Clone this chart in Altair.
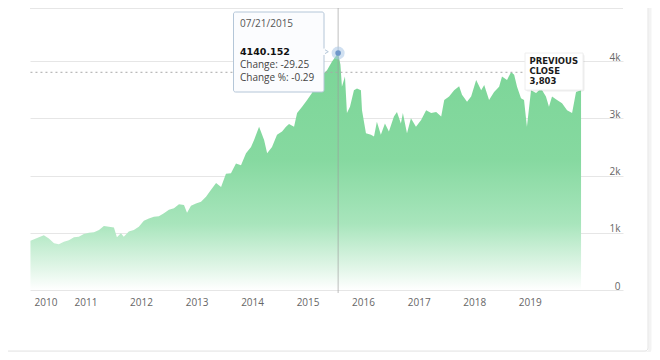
import altair as alt
import pandas as pd

# ---- data ----
dates = [
    "2010-01-04", "2010-03-01", "2010-04-02", "2010-05-05", "2010-06-08", "2010-07-10",
    "2010-08-12", "2010-09-14", "2010-10-17", "2010-11-18", "2010-12-21", "2011-01-24",
    "2011-02-26", "2011-03-31", "2011-05-02", "2011-06-04", "2011-07-07", "2011-07-27",
    "2011-08-22", "2011-09-10", "2011-10-13", "2011-11-15", "2011-12-18", "2012-01-20",
    "2012-02-22", "2012-03-26", "2012-04-28", "2012-05-31", "2012-07-03", "2012-08-05",
    "2012-09-07", "2012-10-10", "2012-10-30", "2012-11-25", "2012-12-28", "2013-01-30",
    "2013-03-04", "2013-04-06", "2013-05-09", "2013-06-11", "2013-07-13", "2013-08-15",
    "2013-09-17", "2013-10-20", "2013-11-22", "2013-12-25", "2014-01-14", "2014-02-16",
    "2014-03-21", "2014-04-10", "2014-05-12", "2014-06-14", "2014-07-17", "2014-08-12",
    "2014-09-01", "2014-10-04", "2014-10-24", "2014-11-26", "2014-12-29", "2015-01-30",
    "2015-03-04", "2015-04-06", "2015-05-09", "2015-05-22", "2015-06-11", "2015-07-21",
    "2015-08-05", "2015-08-15", "2015-09-04", "2015-09-17", "2015-10-07", "2015-11-02",
    "2015-11-22", "2015-12-18", "2015-12-25", "2016-01-20", "2016-02-22", "2016-03-13",
    "2016-04-01", "2016-04-27", "2016-05-24", "2016-06-19", "2016-07-22", "2016-08-11",
    "2016-09-06", "2016-09-19", "2016-10-16", "2016-11-11", "2016-12-14", "2017-01-17",
    "2017-02-19", "2017-03-24", "2017-04-26", "2017-05-29", "2017-06-18", "2017-07-20",
    "2017-08-22", "2017-09-24", "2017-10-13", "2017-11-15", "2017-12-12", "2018-01-14",
    "2018-02-16", "2018-03-08", "2018-04-09", "2018-05-12", "2018-06-14", "2018-07-03",
    "2018-08-05", "2018-09-01", "2018-09-21", "2018-10-10", "2018-11-05", "2018-11-25",
    "2018-12-14", "2019-01-10", "2019-02-12", "2019-03-17", "2019-04-18", "2019-05-08",
    "2019-05-28", "2019-06-30", "2019-08-02", "2019-09-04", "2019-10-07", "2019-11-02",
    "2019-12-05",
]
values = [
    860, 920, 955, 900, 815, 800,
    845, 870, 920, 930, 980, 1000,
    1010, 1050, 1120, 1105, 1090, 920,
    990, 930, 1020, 1050, 1105, 1210,
    1250, 1280, 1290, 1340, 1400, 1430,
    1500, 1485, 1350, 1470, 1510, 1540,
    1630, 1750, 1870, 1800, 2030, 2040,
    2210, 2180, 2390, 2500, 2620, 2850,
    2620, 2390, 2500, 2710, 2770, 2850,
    2900, 2850, 3090, 3200, 3320, 3440,
    3610, 3760, 3840, 3900, 3990, 4140.152,
    3940, 3550, 3730, 3090, 3200, 3490,
    3520, 3490, 3140, 2740, 2710, 2680,
    2940, 2710, 2910, 2770, 3030, 3110,
    2910, 3090, 2740, 3000, 2850, 2970,
    3140, 3090, 3110, 3030, 3320, 3380,
    3490, 3560, 3410, 3290, 3380, 3670,
    3490, 3580, 3320, 3460, 3550, 3730,
    3670, 3810, 3760, 3550, 3350, 3320,
    2850, 3490, 3440, 3520, 3380, 3200,
    3380, 3320, 3260, 3140, 3090, 3460,
    3490,
]
tooltip_date = "07/21/2015"
peak_date = "2015-07-21"
peak_value = 4140.152
peak_change = -29.25
peak_change_pct = -0.29
previous_close = 3803
y_ticks = [0, 1000, 2000, 3000, 4000]
x_years = list(range(2010, 2020))

df = pd.DataFrame({"date": dates, "value": values})
peak_df = pd.DataFrame({"date": [peak_date], "value": [peak_value]})
close_df = pd.DataFrame({"start": [dates[0]], "end": [dates[-1]], "value": [previous_close]})
one = alt.Data(values=[{"k": 0}])

W, H = 593, 282

x_scale = alt.Scale(
    type="utc",
    domain=[alt.DateTime(year=2010, month=1, date=1, utc=True),
            alt.DateTime(year=2020, month=9, date=6, utc=True)],
)
y_scale = alt.Scale(domain=[0, 4926], nice=False)

x_axis = alt.Axis(
    values=[alt.DateTime(year=y, month=1, date=1, utc=True) for y in x_years],
    format="%Y", grid=False, ticks=False, domain=False, title=None,
    labelFont="Open Sans", labelFontSize=10, labelColor="#666666",
    labelPadding=7, labelFlush=True, labelFlushOffset=-4,
)
y_axis = alt.Axis(
    orient="right", values=y_ticks, title=None,
    labelExpr="datum.value == 0 ? '0' : (datum.value / 1000) + 'k'",
    grid=True, gridColor="#e6e6e6", gridWidth=1, ticks=False, domain=False,
    labelAlign="right", labelPadding=-3, labelBaseline="alphabetic", labelOffset=-1,
    labelFont="Open Sans", labelFontSize=10, labelColor="#666666",
)

gradient = alt.Gradient(
    gradient="linear", x1=0, x2=0, y1=0, y2=1,
    stops=[
        alt.GradientStop(color="#7bd597", offset=0),
        alt.GradientStop(color="#86d9a0", offset=0.45),
        alt.GradientStop(color="#a8e5bc", offset=0.72),
        alt.GradientStop(color="#dff5e6", offset=0.9),
        alt.GradientStop(color="#ffffff", offset=1),
    ],
)

# card frame (decoration)
card_shadow = alt.Chart(one).mark_rect(
    fillOpacity=0, stroke="#f3f3f3", strokeWidth=3, cornerRadius=4
).encode(x=alt.value(-27), x2=alt.value(620), y=alt.value(-20), y2=alt.value(345))
card = alt.Chart(one).mark_rect(
    fillOpacity=0, stroke="#e4e4e4", strokeWidth=1, cornerRadius=3
).encode(x=alt.value(-25), x2=alt.value(618), y=alt.value(-20), y2=alt.value(343))

top_line = alt.Chart(one).mark_rule(color="#e6e6e6").encode(
    x=alt.value(0), x2=alt.value(W), y=alt.value(0.5)
)

area = alt.Chart(df).mark_area(color=gradient, interpolate="linear").encode(
    x=alt.X("date:T", scale=x_scale, axis=x_axis),
    y=alt.Y("value:Q", scale=y_scale, axis=y_axis),
)

close_rule = alt.Chart(close_df).mark_rule(
    color="#a8a8a8", strokeDash=[2, 3], strokeWidth=1
).encode(x="start:T", x2="end:T", y="value:Q")

crosshair = alt.Chart(peak_df).mark_rule(color="#9a9a9a", strokeWidth=0.8, opacity=0.8).encode(
    x="date:T", y=alt.value(-8), y2=alt.value(285)
)

halo = alt.Chart(peak_df).mark_circle(size=170, color="#a9c6e6", opacity=0.55).encode(
    x="date:T", y="value:Q"
)
dot = alt.Chart(peak_df).mark_circle(size=32, color="#6f97c9", opacity=1).encode(
    x="date:T", y="value:Q"
)

# tooltip box
tip_box = alt.Chart(one).mark_rect(
    fill="#fbfcfe", stroke="#b4c6d8", strokeWidth=1, cornerRadius=2
).encode(x=alt.value(203.5), x2=alt.value(294), y=alt.value(4), y2=alt.value(84))
tip_arrow = alt.Chart(one).mark_point(
    shape="triangle-right", size=28, filled=True, fill="#fbfcfe",
    stroke="#b4c6d8", strokeWidth=1, opacity=1
).encode(x=alt.value(296), y=alt.value(43.7))
tip_arrow_cover = alt.Chart(one).mark_rule(color="#fbfcfe", strokeWidth=2).encode(
    x=alt.value(294), y=alt.value(40.5), y2=alt.value(47)
)


def txt(text, x, y, font, size, color, weight="normal"):
    return alt.Chart(one).mark_text(
        text=text, font=font, fontSize=size, color=color, fontWeight=weight,
        align="left", baseline="middle"
    ).encode(x=alt.value(x), y=alt.value(y))


tip_texts = [
    txt(tooltip_date, 210, 16.3, "Open Sans", 10, "#555555"),
    txt(f"{peak_value:.3f}", 210, 43.7, "DejaVu Sans", 9.5, "#111111", "bold"),
    txt(f"Change: {peak_change:.2f}", 210, 57, "Open Sans", 10, "#444444"),
    txt(f"Change %: {peak_change_pct:.2f}", 210, 70.3, "Open Sans", 10, "#444444"),
]

# previous close label
pc_shadow = alt.Chart(one).mark_rect(fill="#000000", opacity=0.07, cornerRadius=2).encode(
    x=alt.value(496), x2=alt.value(554.5), y=alt.value(46), y2=alt.value(83.5)
)
pc_box = alt.Chart(one).mark_rect(fill="#ffffff", stroke="#eeeeee", strokeWidth=1).encode(
    x=alt.value(495), x2=alt.value(553), y=alt.value(45), y2=alt.value(82)
)
pc_texts = [
    txt("PREVIOUS", 499.5, 53, "DejaVu Sans", 8.5, "#1a1a1a", "bold"),
    txt("CLOSE", 499.5, 63, "DejaVu Sans", 8.5, "#1a1a1a", "bold"),
    txt(f"{previous_close:,}", 499.5, 72.7, "DejaVu Sans", 8.5, "#1a1a1a", "bold"),
]

chart = alt.layer(
    card_shadow, card, top_line, area, close_rule, crosshair, halo, dot,
    tip_box, tip_arrow, tip_arrow_cover, *tip_texts,
    pc_shadow, pc_box, *pc_texts,
).properties(
    width=W, height=H,
    autosize=alt.AutoSizeParams(type="none"),
    padding={"left": 22, "top": 0, "right": 29, "bottom": 62},
    background="#ffffff",
).configure_view(strokeWidth=0)

chart.save("out.html", embed_options={"renderer": "svg", "actions": False})
